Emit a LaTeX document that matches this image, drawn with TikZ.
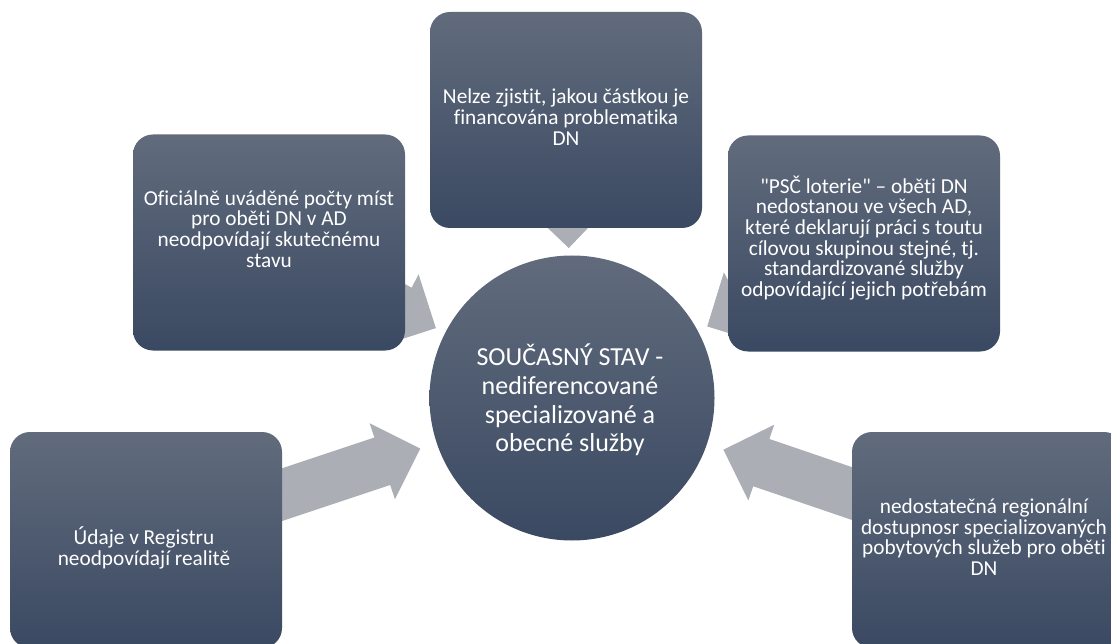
\documentclass[tikz,border=0pt]{standalone}
\usepackage{fontspec}
\setmainfont{Carlito}[Ligatures={TeXOff,NoCommon}]
\usetikzlibrary{calc,backgrounds}
\definecolor{boxtop}{RGB}{97,107,124}
\definecolor{boxbot}{RGB}{58,73,98}
\definecolor{arrowgray}{RGB}{171,174,181}
\newcommand\cardfont{\fontsize{21.3}{20.7}\selectfont\lineskiplimit=-20pt\relax}
\newcommand\hubfont{\fontsize{26}{28.6}\selectfont\lineskiplimit=-20pt\relax}
\tikzset{
  card/.style={rounded corners=20pt, minimum width=272pt, minimum height=216pt,
    top color=boxtop, bottom color=boxbot, inner sep=0pt, draw=none},
  hub/.style={circle, minimum size=285pt, top color=boxtop, bottom color=boxbot,
    inner sep=0pt, draw=none},
  cardtext/.style={text=white, align=center, inner sep=0pt, font=\cardfont},
  hubtext/.style={text=white, align=center, inner sep=0pt, font=\hubfont},
  arrowfill/.style={fill=arrowgray}
}
% #1 = source node, #2 = target node, #3 = distance of tip from target centre
\newcommand\convergearrow[3]{%
  \coordinate (tipX) at ($(#2)!#3!(#1)$);
  \coordinate (baseX) at ($(tipX)!40pt!(#1)$);
  \fill[arrowfill] ($(#1)!25pt!90:(tipX)$) -- ($(baseX)!25pt!90:(tipX)$)
    -- ($(baseX)!40pt!90:(tipX)$) -- (tipX) -- ($(baseX)!40pt!-90:(tipX)$)
    -- ($(baseX)!25pt!-90:(tipX)$) -- ($(#1)!25pt!-90:(tipX)$) -- cycle;
}
\begin{document}
\begin{tikzpicture}[x=1pt,y=-1pt]
\useasboundingbox (0,0) rectangle (1111,644);
\node[hub] (hub) at (572,398) {};
\node[card] (bt) at (566,120) {};
\node[card] (bul) at (269,242.5) {};
\node[card] (bur) at (864,243.5) {};
\node[card] (bbl) at (146,540) {};
\node[card] (bbr) at (988,540) {};

\node[cardtext] (tt) at (566,117) {Nelze zjistit, jakou částkou je\\financována problematika\\DN};
\node[cardtext] (tul) at (269,229) {Oficiálně uváděné počty míst\\pro oběti DN v AD\\neodpovídají skutečnému\\stavu};
\node[cardtext] (tur) at (864,238) {"PSČ loterie" – oběti DN\\nedostanou ve všech AD,\\které deklarují práci s toutu\\cílovou skupinou stejné, tj.\\standardizované služby\\odpovídající jejich potřebám};
\node[cardtext] (tbl) at (144,548) {Údaje v Registru\\neodpovídají realitě};
\node[cardtext] (tbr) at (984,537) {nedostatečná regionální\\dostupnosr specializovaných\\pobytových služeb pro oběti\\DN};
\node[hubtext] (th) at (570,400) {SOUČASNÝ STAV -\\nediferencované\\specializované a\\obecné služby};

\begin{scope}[on background layer]
  \fill[white] (0,0) rectangle (1111,644);
  \convergearrow{bt}{hub}{150pt}
  \convergearrow{bul}{hub}{153pt}
  \convergearrow{bur}{hub}{153pt}
  \convergearrow{bbl}{hub}{160pt}
  \convergearrow{bbr}{hub}{160pt}
\end{scope}
\end{tikzpicture}
\end{document}
